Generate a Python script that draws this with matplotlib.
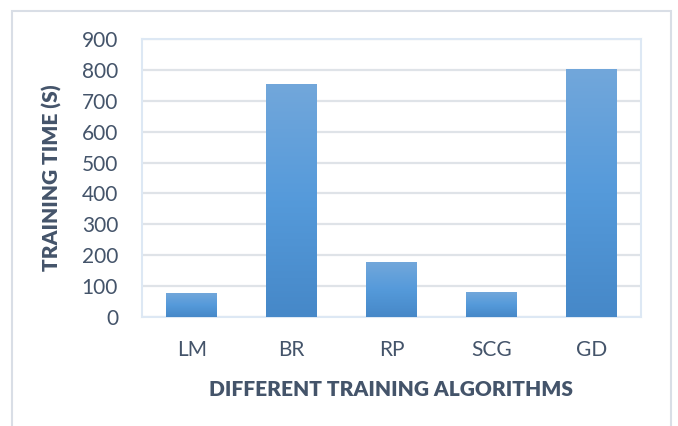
import matplotlib.pyplot as plt
import numpy as np
from matplotlib.colors import LinearSegmentedColormap
from matplotlib.patches import Rectangle

algorithms = ["LM", "BR", "RP", "SCG", "GD"]
train_time = [76, 755, 178, 80, 804]
yticks = [0, 100, 200, 300, 400, 500, 600, 700, 800, 900]

txt = "#44546a"
plt.rcParams['font.family'] = ['Lato', 'DejaVu Sans']

fig = plt.figure(figsize=(6.78, 4.26), dpi=100)
# chart frame like the office chart border
fig.patches.append(Rectangle((12 / 678, -0.05), 659 / 678, (416 + 20) / 426, transform=fig.transFigure,
                             fill=False, edgecolor="#d9dee6", linewidth=1.5))
ax = fig.add_axes([0.209, 0.2566, 0.7366, 0.6511])

bars = ax.bar(algorithms, train_time, width=0.51, color="none", zorder=3)

# vertical gradient, light at top, darker at bottom
cmap = LinearSegmentedColormap.from_list("blu", ["#4688c8", "#559ada", "#72a7db"])
grad = np.linspace(0, 1, 256).reshape(-1, 1)
for b in bars:
    ax.imshow(grad, cmap=cmap, origin="lower", aspect="auto", zorder=3,
              extent=[b.get_x(), b.get_x() + b.get_width(), 0, b.get_height()])
ax.set_xlim(-0.5, len(algorithms) - 0.5)
ax.set_ylim(0, 900)

ax.set_yticks(yticks)
ax.grid(axis="y", color="#dfe3e8", linewidth=1.6, zorder=0)
ax.set_axisbelow(True)
for s in ax.spines.values():
    s.set_color("#dde8f4")
    s.set_linewidth(1.5)
ax.tick_params(length=0, labelsize=15, labelcolor=txt)
ax.tick_params(axis="y", pad=17)
ax.tick_params(axis="x", pad=17)

ax.set_xlabel("DIFFERENT TRAINING ALGORITHMS", fontsize=15, fontweight="heavy", color=txt, labelpad=14)
ax.set_ylabel("TRAINING TIME (S)", fontsize=15, fontweight="heavy", color=txt, labelpad=14)

fig.savefig("out.png", dpi=100)
